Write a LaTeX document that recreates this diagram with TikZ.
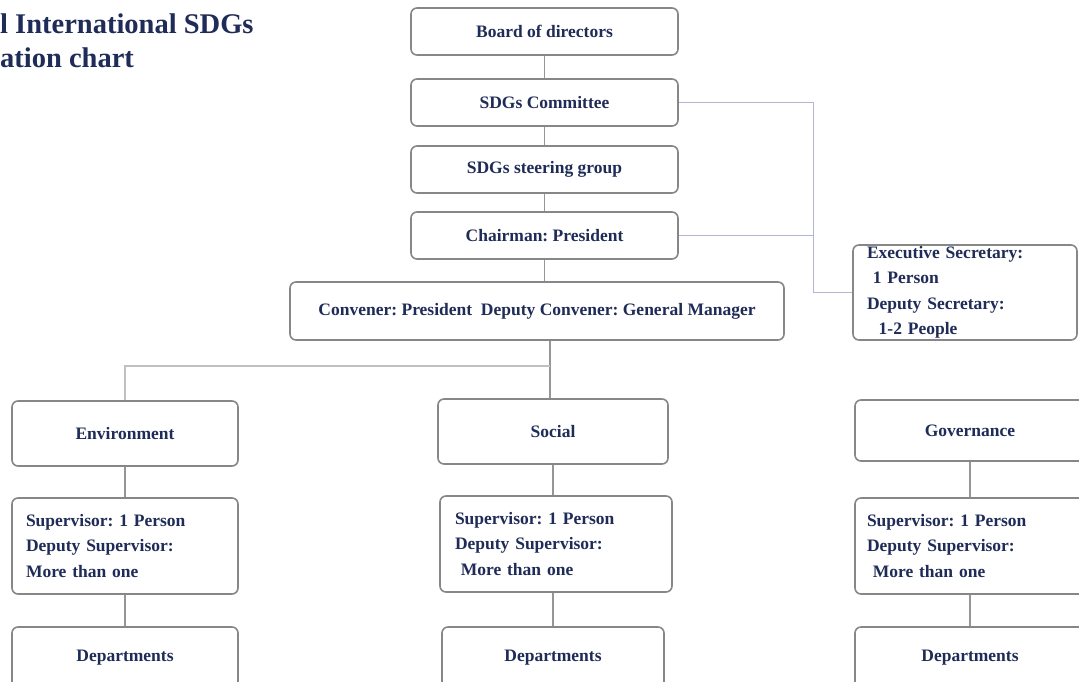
\documentclass[tikz,border=0pt]{standalone}
\usepackage{fontspec}
\setmainfont{Liberation Serif}
\usepackage{xcolor}
\usetikzlibrary{positioning}
\frenchspacing
\definecolor{navy}{RGB}{32,44,88}
\definecolor{boxline}{RGB}{135,135,135}
\definecolor{linkgray}{RGB}{150,150,150}
\definecolor{linklav}{RGB}{180,180,212}
\tikzstyle{box} = [draw=boxline, line width=1.6pt, fill=white, rounded corners=6pt, text=navy, inner sep=0pt, align=center]
\tikzstyle{listbox} = [box, align=left, inner xsep=14pt]
\tikzstyle{link} = [draw=linkgray, line width=1.2pt]
\tikzstyle{sidelink} = [draw=linklav, line width=1pt]
\tikzstyle{title} = [text=navy, inner sep=0pt, anchor=base west, font=\fontsize{28.5}{34}\selectfont\bfseries]

\begin{document}
\begin{tikzpicture}[x=1pt,y=-1pt]
	\useasboundingbox (0,0) rectangle (1079,681);
	\clip (0,0) rectangle (1079,681);
	\begin{scope}[font=\fontsize{17.5}{25.5}\selectfont\bfseries]
		
		% Title:
		\node[title] (title1) at (0,33) {l International SDGs};
		\node[title] (title2) at (0,67) {ation chart};
		
		% Top column:
		\node[box, minimum width=267, minimum height=47] (board) at (544.5,31.5) {Board of directors};
		\node[box, minimum width=267, minimum height=47] (committee) at (544.5,102.5) {SDGs Committee};
		\node[box, minimum width=267, minimum height=47] (steering) at (544.5,169.5) {SDGs steering group};
		\node[box, minimum width=267, minimum height=47] (chairman) at (544.5,235.5) {Chairman: President};
		\node[box, minimum width=494, minimum height=58] (convener) at (537,311) {Convener: President\ \ Deputy Convener: General Manager};
		
		% Secretary:
		\node[listbox, text width=196, minimum height=95] (secretary) at (965,292.5) {Executive Secretary:\\\ 1 Person\\Deputy Secretary:\\\ \ 1-2 People};
		
		% Three pillars:
		\node[box, minimum width=226, minimum height=65] (env) at (125,433.5) {Environment};
		\node[box, minimum width=230, minimum height=65] (social) at (553,431.5) {Social};
		\node[box, minimum width=230, minimum height=61] (gov) at (970,430.5) {Governance};
		
		% Supervisors:
		\node[listbox, text width=198, minimum height=96] (envsup) at (125,546) {Supervisor: 1 Person\\Deputy Supervisor:\\More than one};
		\node[listbox, inner xsep=15pt, text width=202, minimum height=96] (socsup) at (556,544) {Supervisor: 1 Person\\Deputy Supervisor:\\\ More than one};
		\node[listbox, inner xsep=12pt, text width=206, minimum height=96] (govsup) at (970,546) {Supervisor: 1 Person\\Deputy Supervisor:\\\ More than one};
		
		% Departments:
		\node[box, minimum width=226, minimum height=62] (envdep) at (125,658) {Departments};
		\node[box, minimum width=222, minimum height=62] (socdep) at (553,658) {Departments};
		\node[box, minimum width=230, minimum height=62] (govdep) at (970,658) {Departments};
		
		% Connectors:
		\draw[link] (board) -- (committee);
		\draw[link] (committee) -- (steering);
		\draw[link] (steering) -- (chairman);
		\draw[link] (chairman) -- (chairman |- convener.north);
		\coordinate (bend) at (813,292.5);
		\draw[sidelink] (committee.east) -| (bend) -- (secretary.west);
		\draw[sidelink] (chairman.east) -- (chairman.east -| bend);
		\coordinate (split) at (550,366);
		\draw[link] (convener.south -| split) -- (social.north -| split);
		\draw[link, draw=linkgray!60] (split) -| (env.north);
		\draw[link] (env) -- (envsup);
		\draw[link] (envsup) -- (envdep);
		\draw[link] (social) -- (socsup.north -| social);
		\draw[link] (socsup.south -| socdep) -- (socdep);
		\draw[link] (gov.south -| govsup) -- (govsup);
		\draw[link] (govsup) -- (govdep);
		
	\end{scope}
\end{tikzpicture}
\end{document}
